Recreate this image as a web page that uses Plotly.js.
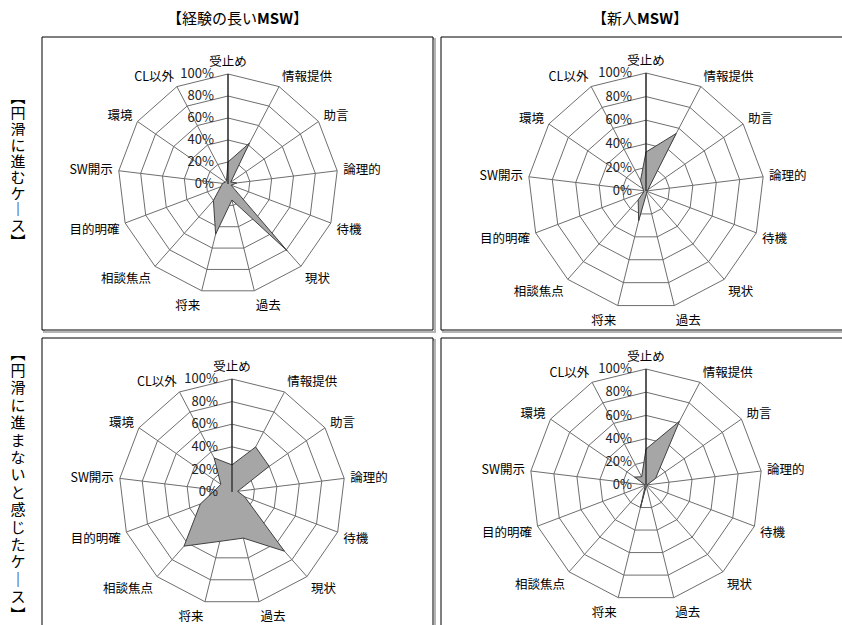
<!DOCTYPE html>
<html>
<head>
<meta charset="utf-8">
<script src="https://cdn.plot.ly/plotly-3.0.1.min.js"></script>
<style>html,body{margin:0;padding:0;background:#fff;}#chart{width:842px;height:625px;}</style>
</head>
<body>
<div id="chart"></div>
<script>
// Categories (clockwise from top)
const categories = ['受止め','情報提供','助言','論理的','待機','現状','過去','将来','相談焦点','目的明確','SW開示','環境','CL以外'];
// Share values (0-1)
const expSmooth = [0.20,0.42,0.03,0.08,0.03,0.81,0.15,0.47,0.20,0.07,0.05,0.03,0.03];
const newSmooth = [0.33,0.55,0.02,0.01,0.01,0.01,0.02,0.26,0.10,0.02,0.02,0.03,0.10];
const expRough  = [0.24,0.45,0.40,0.05,0.12,0.70,0.42,0.45,0.64,0.30,0.15,0.12,0.34];
const newRough  = [0.31,0.62,0.10,0.01,0.01,0.01,0.01,0.20,0.01,0.01,0.01,0.12,0.08];
const radialTicks = [0,0.2,0.4,0.6,0.8,1];
const colTitles = ['【経験の長い<b>MSW</b>】','【新人<b>MSW</b>】'];
const rowTitle1 = ['︻','円','滑','に','進','む','ケ','｜','ス','︼'];
const rowTitle2 = ['︻','円','滑','に','進','ま','な','い','と','感','じ','た','ケ','｜','ス','︼'];

const W = 842, H = 625;
const FONT = '"Noto Sans CJK JP", "Noto Sans", sans-serif';
const px = x => x / W;
const py = y => 1 - y / H;

function closed(a){ return a.concat([a[0]]); }
function trace(vals, sub){
  return {type:'scatterpolar', r: closed(vals), theta: closed(categories), subplot: sub,
    mode:'lines', fill:'toself', fillcolor:'#a6a6a6', line:{color:'#404040', width:1},
    hoverinfo:'skip', showlegend:false};
}
function polar(cx, cy, rad){
  return {
    domain:{x:[px(cx-rad), px(cx+rad)], y:[py(cy+rad), py(cy-rad)]},
    gridshape:'linear', bgcolor:'rgba(0,0,0,0)', hole:0,
    angularaxis:{type:'category', categoryarray:categories, rotation:90, direction:'clockwise',
      showline:true, linecolor:'#6e6e6e', linewidth:1, gridcolor:'#6e6e6e', gridwidth:1,
      ticks:'outside', ticklen:3, tickcolor:'rgba(0,0,0,0)', tickfont:{size:12.5, color:'#000', family:FONT}},
    radialaxis:{range:[0,1], tickvals:radialTicks, tickformat:'.0%', angle:90, side:'counterclockwise',
      showline:true, linecolor:'#000', linewidth:1, gridcolor:'#6e6e6e', gridwidth:1,
      ticks:'outside', ticklen:9, tickcolor:'rgba(0,0,0,0)', tickangle:90, tickfont:{size:13, color:'#222', family:FONT}}
  };
}

const data = [
  trace(expSmooth,'polar'), trace(newSmooth,'polar2'),
  trace(expRough,'polar3'), trace(newRough,'polar4')
];

const boxes = [[42,37,433,330],[441,37,845,330],[42,338,433,630],[441,338,845,630]];
const shapes = [];
boxes.forEach(b=>{
  shapes.push({type:'rect', xref:'paper', yref:'paper', x0:px(b[0]+2), x1:px(b[2]+2), y0:py(b[3]+2), y1:py(b[1]+2),
    line:{color:'#b4b4b4', width:2}, layer:'below'});
  shapes.push({type:'rect', xref:'paper', yref:'paper', x0:px(b[0]), x1:px(b[2]), y0:py(b[3]), y1:py(b[1]),
    line:{color:'#000', width:1}, fillcolor:'#fff', layer:'below'});
});

const annotations = [
  {text:colTitles[0], x:px(237), y:py(17), xref:'paper', yref:'paper', xanchor:'center', yanchor:'middle', showarrow:false, font:{size:15, color:'#000', family:FONT}},
  {text:colTitles[1], x:px(640), y:py(17), xref:'paper', yref:'paper', xanchor:'center', yanchor:'middle', showarrow:false, font:{size:15, color:'#000', family:FONT}}
];
function vChar(c, y, step){
  return {text:c, x:px(18), y:py(y), xref:'paper', yref:'paper', xanchor:'center', yanchor:'middle',
    width:20, height:step, showarrow:false, font:{size:15, color:'#000', family:FONT}};
}
rowTitle1.forEach((c,i)=>annotations.push(vChar(c, 96 + i*16, 16)));
rowTitle2.forEach((c,i)=>annotations.push(vChar(c, 352 + i*17.4, 17.4)));

const layout = {
  width:W, height:H, autosize:false, margin:{l:0,r:0,t:0,b:0},
  paper_bgcolor:'#fff', showlegend:false, font:{family:FONT},
  polar: polar(228,184,110),
  polar2: polar(646,191,118),
  polar3: polar(232,492,113),
  polar4: polar(646,485,116),
  shapes: shapes, annotations: annotations
};
Plotly.newPlot('chart', data, layout, {displayModeBar:false, staticPlot:true});
</script>
</body>
</html>
